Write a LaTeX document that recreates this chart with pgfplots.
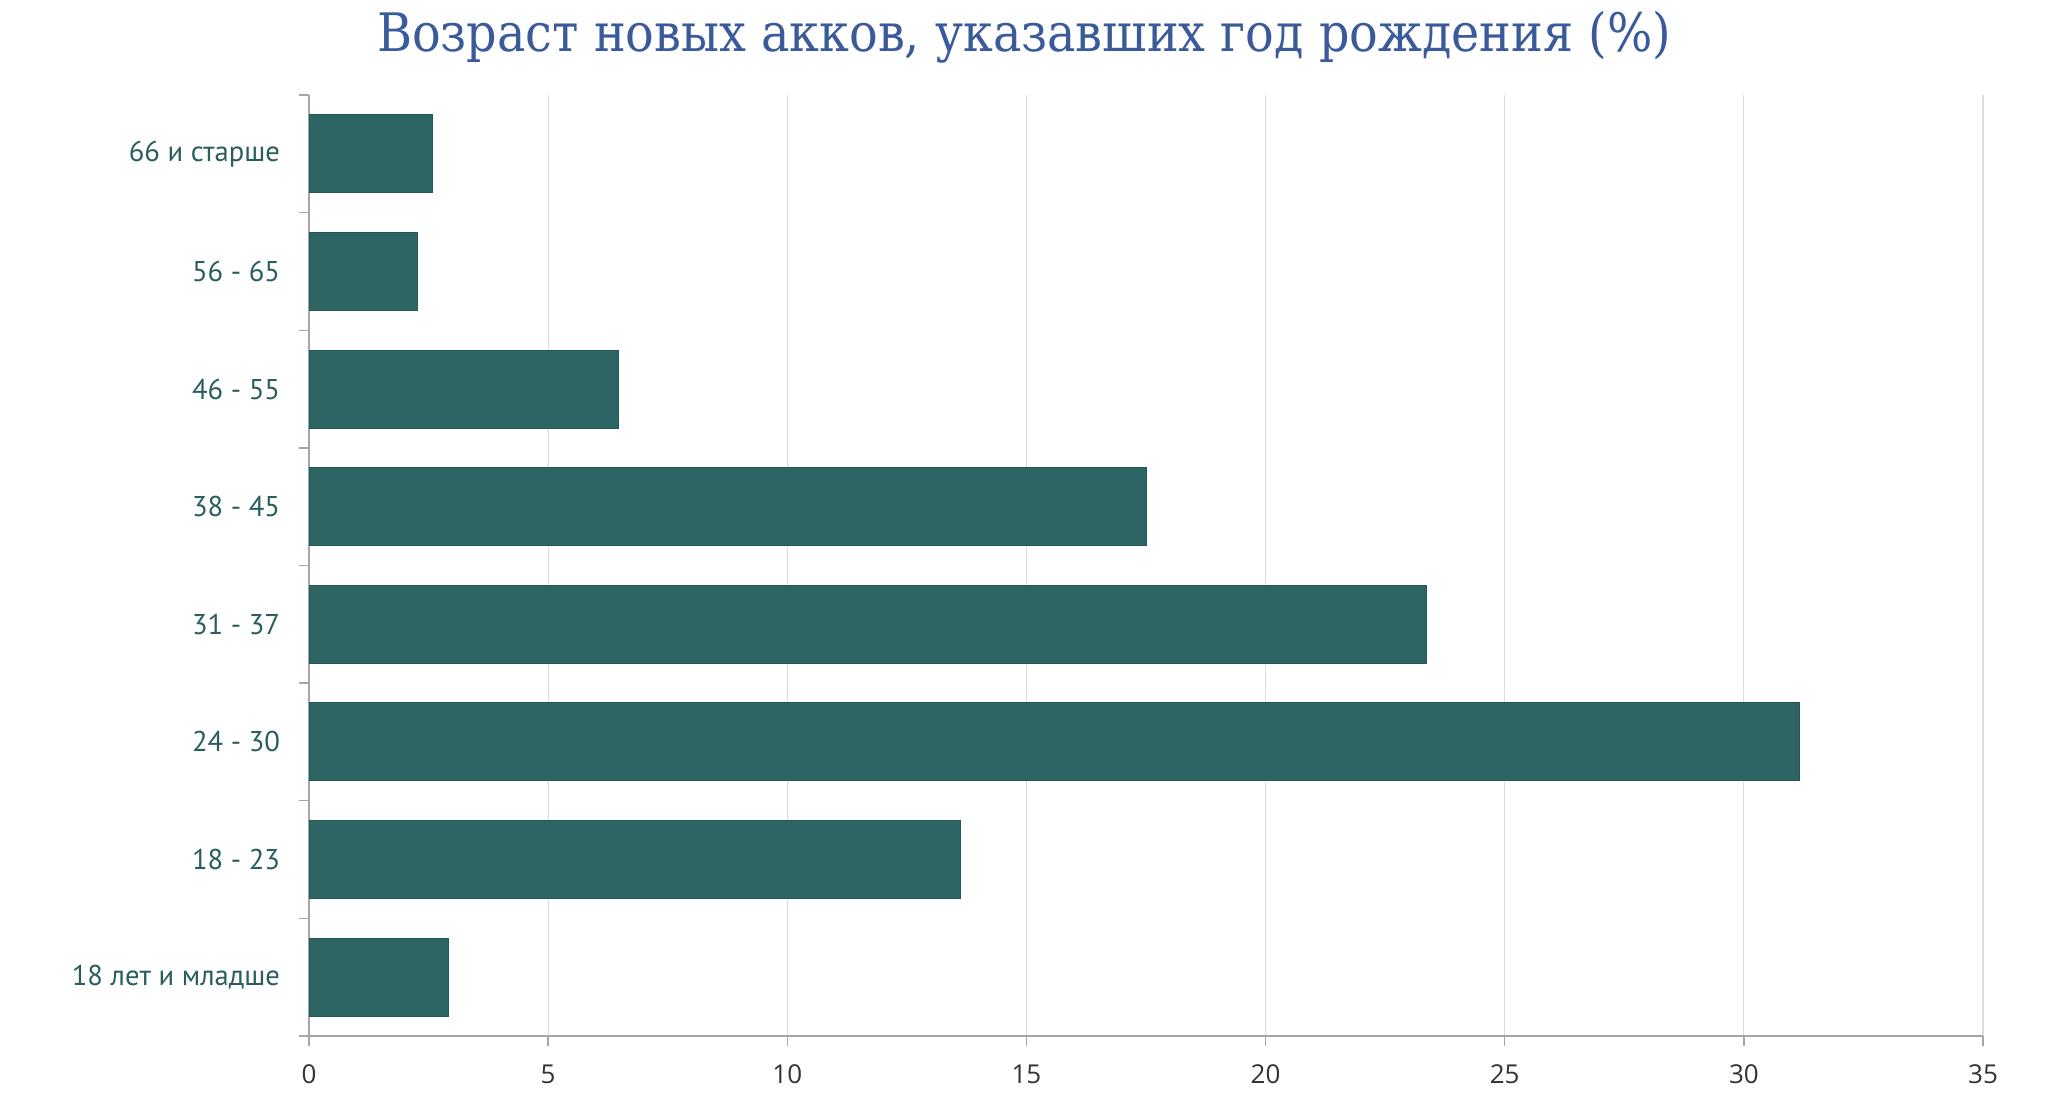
\documentclass[border=0pt]{standalone}
\usepackage{pgfplots}
\pgfplotsset{compat=1.18}
\usepackage{fontspec}
\setmainfont{Open Sans}
\newfontfamily\labfont{PT Sans}
\newfontfamily\titlefont{DejaVu Serif Condensed}
\definecolor{barc}{HTML}{2D6565}
\definecolor{bard}{HTML}{245858}
\definecolor{titlec}{HTML}{3A5A9B}
\definecolor{labc}{HTML}{2A5E5E}
\definecolor{gridc}{HTML}{DDDDDD}
\definecolor{axc}{HTML}{A6A6A6}
\definecolor{tickc}{HTML}{333333}
\begin{document}
\begin{tikzpicture}[x=1pt,y=1pt]
\path[use as bounding box] (0,0) rectangle (1024,549.5);
\begin{axis}[
  at={(154.5pt,31.5pt)}, anchor=south west,
  width=837pt, height=470.5pt, scale only axis,
  xmin=0, xmax=35, ymin=-0.5, ymax=7.5,
  xbar, bar width=39pt, bar shift=0pt,
  axis x line=bottom, axis y line=left,
  axis line style={-, draw=axc, line width=0.7pt},
  xtick={0,5,...,35},
  xmajorgrids, grid style={draw=gridc, line width=0.6pt},
  ytick={0,...,7},
  yticklabels={18 лет и младше, 18 - 23, 24 - 30, 31 - 37, 38 - 45, 46 - 55, 56 - 65, 66 и старше},
  minor ytick={-0.5,0.5,...,7.5},
  tick align=outside,
  major tick length=5pt, minor tick length=5pt,
  major y tick style={draw=none},
  minor y tick style={draw=axc, line width=0.7pt},
  major x tick style={draw=axc, line width=0.7pt},
  /pgf/number format/assume math mode=true,
  xticklabel style={font=\fontsize{13}{15}\selectfont, text=tickc, anchor=north, yshift=-6pt},
  yticklabel style={font=\labfont\fontsize{14.3}{17}\selectfont, text=labc, anchor=east, xshift=-6pt},
  clip=false,
]
\addplot[fill=barc, draw=bard, line width=0.5pt] coordinates {
  (2.91,0) (13.63,1) (31.16,2) (23.36,3) (17.51,4) (6.48,5) (2.27,6) (2.59,7)
};
\end{axis}
\node[font=\titlefont\fontsize{26.5}{32}\selectfont, text=titlec] at (512,531) {Возраст новых акков, указавших год рождения (\%)};
\end{tikzpicture}
\end{document}
